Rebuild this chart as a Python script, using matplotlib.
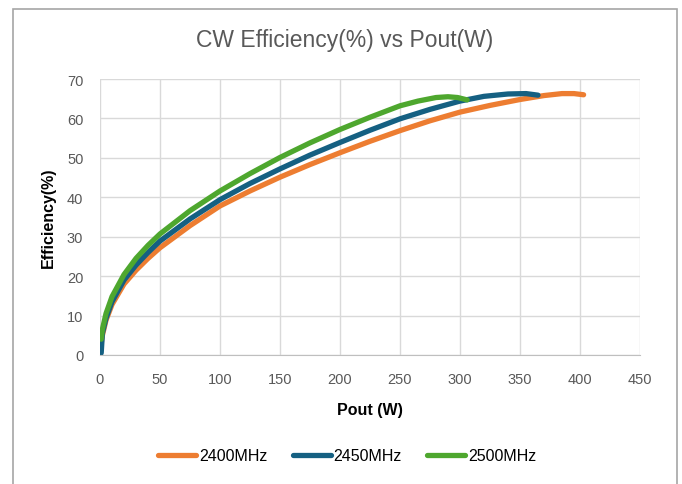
import matplotlib
matplotlib.use("Agg")
import matplotlib.pyplot as plt
from matplotlib.patches import Rectangle
from matplotlib import font_manager

fams = {f.name for f in font_manager.fontManager.ttflist}
FONT = "Liberation Sans Narrow" if "Liberation Sans Narrow" in fams else "Liberation Sans"
plt.rcParams['font.family'] = [FONT, 'DejaVu Sans']

title = "CW Efficiency(%) vs Pout(W)"
xlabel = "Pout (W)"
ylabel = "Efficiency(%)"

pout_2400 = [0.5, 2, 5, 10, 20, 30, 40, 50, 75, 100, 125, 150, 175, 200, 225, 250, 275,
             300, 325, 350, 370, 385, 395, 403]
eff_2400 = [2.0, 5.0, 8.8, 12.8, 18.0, 21.5, 24.5, 27.2, 32.8, 37.8, 41.6, 45.1, 48.3, 51.3,
            54.2, 56.9, 59.4, 61.6, 63.3, 64.8, 65.8, 66.3, 66.3, 66.0]

pout_2450 = [1, 2, 5, 10, 20, 30, 40, 50, 75, 100, 125, 150, 175, 200, 225, 250, 275,
             300, 320, 340, 355, 365]
eff_2450 = [0.5, 5.5, 9.3, 13.5, 19.0, 22.8, 26.0, 28.9, 34.5, 39.4, 43.5, 47.2, 50.7, 53.9,
            57.0, 59.9, 62.3, 64.4, 65.6, 66.2, 66.3, 65.9]

pout_2500 = [1, 2, 5, 10, 20, 30, 40, 50, 75, 100, 125, 150, 175, 200, 225, 250, 265,
             280, 290, 298, 306]
eff_2500 = [4.0, 6.5, 10.5, 14.8, 20.4, 24.5, 27.8, 30.7, 36.6, 41.6, 46.0, 50.1, 53.8, 57.2,
            60.3, 63.2, 64.4, 65.3, 65.5, 65.3, 64.7]

series = [
    ("2400MHz", pout_2400, eff_2400, "#ED7D31"),
    ("2450MHz", pout_2450, eff_2450, "#156082"),
    ("2500MHz", pout_2500, eff_2500, "#4EA72E"),
]

fig = plt.figure(figsize=(6.82, 4.85), dpi=100)
fig.patches.append(Rectangle((13/682, -0.1), (677-13)/682, 1.1 - 10/485,
                             transform=fig.transFigure, fill=False,
                             edgecolor="#a6a6a6", linewidth=1.2))

ax = fig.add_axes([100/682, 1-356/485, 540/682, 276/485])
for name, x, y, c in series:
    ax.plot(x, y, color=c, lw=3.8, solid_capstyle="round", solid_joinstyle="round", label=name)

ax.set_xlim(0, 450)
ax.set_ylim(0, 70)
ax.set_xticks(range(0, 451, 50))
ax.set_yticks(range(0, 71, 10))
ax.grid(True, color="#d9d9d9", lw=1)
ax.set_axisbelow(True)
for s in ["top", "right", "left"]:
    ax.spines[s].set_visible(False)
ax.spines["bottom"].set_color("#bfbfbf")
ax.tick_params(length=0, labelsize=10.5, colors="#595959")
ax.tick_params(axis='x', pad=12)
ax.tick_params(axis='y', pad=12)

ax.set_xlabel(xlabel, fontsize=11.5, fontweight="bold", color="black", labelpad=12)
ax.set_ylabel(ylabel, fontsize=11.5, fontweight="bold", color="black", labelpad=8)
fig.text(345/682, 1-40/485, title, ha="center", va="center", fontsize=16.5, color="#595959")

leg = ax.legend(loc="center", bbox_to_anchor=(347/682, 1-457/485), bbox_transform=fig.transFigure,
                ncol=3, frameon=False, fontsize=11.5, handlelength=2.4, columnspacing=1.6,
                handletextpad=0.15)
for t in leg.get_texts():
    t.set_color("black")

fig.savefig("out.png", dpi=100, facecolor="white")
